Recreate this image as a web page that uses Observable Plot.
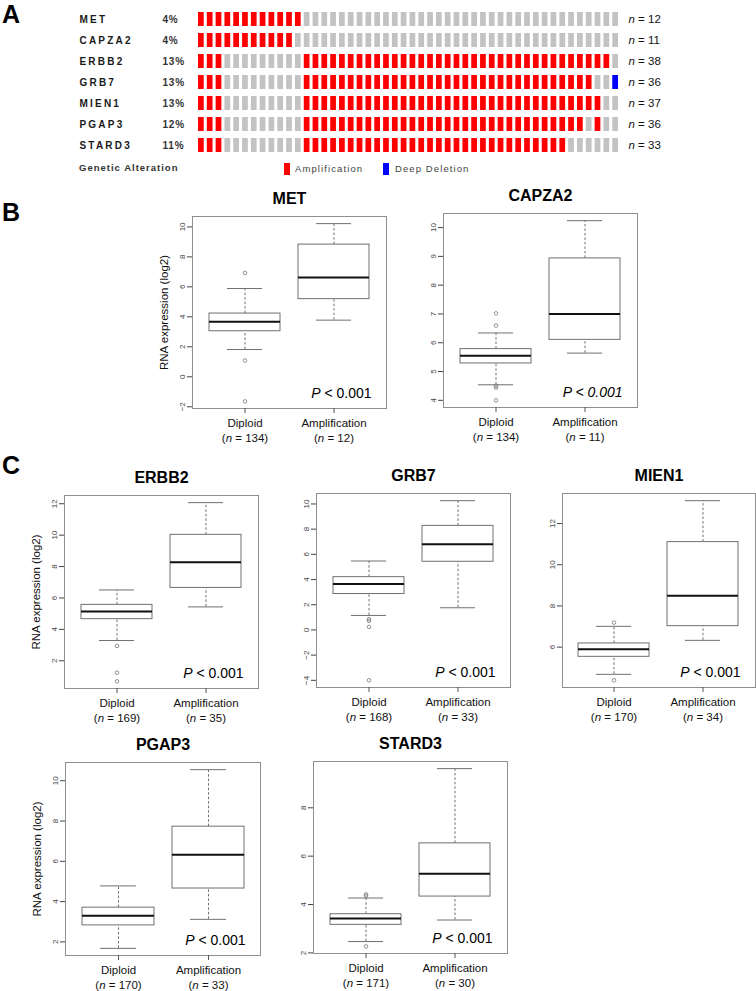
<!DOCTYPE html>
<html><head><meta charset="utf-8">
<script src="https://cdn.jsdelivr.net/npm/d3@7"></script>
<script src="https://cdn.jsdelivr.net/npm/@observablehq/plot@0.6"></script>
<style>
body{margin:0;background:#fff;}
#fig{position:relative;width:756px;height:991px;overflow:hidden;background:#fff;font-family:"Liberation Sans",Arial,Helvetica,sans-serif;color:#000;}
.letter{position:absolute;font-weight:bold;font-size:25px;line-height:1.1;}
.leg{position:absolute;font-size:9.5px;line-height:12px;letter-spacing:1.1px;color:#444;white-space:nowrap;}
.sw{position:absolute;width:6px;height:12px;}
</style></head><body><div id="fig"></div>
<script>
// ---------------- DATA ----------------
// Panel A (oncoprint)
const oncoGenes = ["MET", "CAPZA2", "ERBB2", "GRB7", "MIEN1", "PGAP3", "STARD3"];
const oncoPct = ["4%", "4%", "13%", "13%", "13%", "12%", "11%"];
const oncoN = [12, 11, 38, 36, 37, 36, 33];
// per-sample alteration runs (A = amplification, - = none, D = deep deletion), 48 samples
const oncoRuns = [
  [["A", 12], ["-", 36]],
  [["A", 11], ["-", 37]],
  [["A", 3], ["-", 9], ["A", 35], ["-", 1]],
  [["A", 3], ["-", 9], ["A", 33], ["-", 2], ["D", 1]],
  [["A", 3], ["-", 9], ["A", 34], ["-", 2]],
  [["A", 3], ["-", 9], ["A", 32], ["-", 1], ["A", 1], ["-", 2]],
  [["A", 3], ["-", 9], ["A", 30], ["-", 6]]
];
const statusCodes = ["A", "-", "D"];
const statusNames = ["Amplification", "None", "Deep Deletion"];

// Panels B and C (box plots)
const boxGenes = ["MET", "CAPZA2", "ERBB2", "GRB7", "MIEN1", "PGAP3", "STARD3"];
const groupNames = ["Diploid", "Amplification"];
const diploidN = [134, 134, 169, 168, 170, 170, 171];
const ampN = [12, 11, 35, 33, 34, 33, 30];
// [lower whisker, Q1, median, Q3, upper whisker]
const diploidStats = [
  [1.82, 3.04, 3.67, 4.22, 5.89],
  [4.54, 5.28, 5.55, 5.78, 6.34],
  [3.29, 4.65, 5.14, 5.56, 6.51],
  [1.15, 2.85, 3.65, 4.19, 5.47],
  [4.68, 5.53, 5.90, 6.18, 7.01],
  [1.68, 2.82, 3.30, 3.70, 4.78],
  [2.47, 3.16, 3.42, 3.60, 4.27]
];
const ampStats = [
  [3.78, 5.18, 6.62, 8.82, 10.22],
  [5.64, 6.10, 7.00, 8.93, 10.24],
  [5.43, 6.64, 8.27, 10.02, 12.07],
  [1.76, 5.41, 6.80, 8.26, 10.26],
  [6.33, 7.02, 8.50, 11.10, 13.11],
  [3.12, 4.65, 6.33, 7.72, 10.55],
  [3.36, 4.33, 5.27, 6.53, 9.62]
];
const diploidOutliers = [
  [6.93, 1.09, -1.64],
  [7.02, 6.60, 4.50, 4.44, 4.00],
  [2.95, 1.24, 0.69],
  [0.85, 0.72, 0.24, -4.00],
  [7.19, 4.39],
  [],
  [4.42, 4.36, 2.27]
];
const yTicks = [
  [-2, 0, 2, 4, 6, 8, 10],
  [4, 5, 6, 7, 8, 9, 10],
  [2, 4, 6, 8, 10, 12],
  [-4, -2, 0, 2, 4, 6, 8, 10],
  [6, 8, 10, 12],
  [2, 4, 6, 8, 10],
  [2, 4, 6, 8]
];
const pText = ["P < 0.001", "P < 0.001", "P < 0.001", "P < 0.001", "P < 0.001", "P < 0.001", "P < 0.001"];
const yLabelText = "RNA expression (log2)";
const panelLetters = ["A", "B", "C"];

// ---------------- LAYOUT / STYLE ----------------
const FONT = '"Liberation Sans", Arial, Helvetica, sans-serif';
const statusColors = ["#ff0000", "#c3c3c3", "#0000ff"];
// frame [left, right, top, bottom] of each box plot in page pixels
const frames = [
  [192, 386, 216, 408],
  [443, 637, 213, 407],
  [64, 258, 495, 688],
  [316, 510, 493, 687],
  [562, 755, 493, 687],
  [65, 260, 762, 955],
  [313, 507, 761, 953]
];
const showYLabel = [true, false, true, false, false, true, false];
const italicAllP = [false, true, false, false, false, false, false];
const letterPos = [[2, 1], [2, 199], [2, 452]];

const fig = document.getElementById("fig");
function place(el, left, top) {
  el.style.position = "absolute";
  el.style.left = left + "px";
  el.style.top = top + "px";
  fig.appendChild(el);
}
function postProcess(svg) {
  const s = d3.select(svg);
  s.selectAll("text, tspan").each(function () {
    if (this.children.length) return;
    const el = d3.select(this);
    const t = el.text();
    let m;
    if ((m = t.match(/^\(n = (\d+)\)$/))) el.html(`(<tspan font-style="italic">n</tspan> = ${m[1]})`);
    else if ((m = t.match(/^n = (\d+)$/))) el.html(`<tspan font-style="italic">n</tspan> = ${m[1]}`);
    else if ((m = t.match(/^P (.*)$/))) el.html(`<tspan font-style="italic">P</tspan> ${m[1].replace("<", "&lt;")}`);
  });
}

// ---------------- PANEL A ----------------
const cells = oncoGenes.flatMap((g, i) => {
  let col = 0;
  return oncoRuns[i].flatMap(([s, k]) => d3.range(k).map(() => ({gene: g, col: col++, status: s})));
});
const nCols = d3.max(cells, d => d.col) + 1;
const onco = Plot.plot({
  width: 756, height: 180,
  marginLeft: 198, marginRight: 138, marginTop: 12, marginBottom: 27,
  style: {fontFamily: FONT, background: "transparent", overflow: "visible"},
  x: {type: "band", domain: d3.range(nCols), paddingInner: 0.35, paddingOuter: 0, axis: null},
  y: {type: "band", domain: oncoGenes, paddingInner: 0.32, paddingOuter: 0, axis: null},
  color: {domain: statusCodes, range: statusColors},
  marks: [
    Plot.cell(cells, {x: "col", y: "gene", fill: "status", inset: 0}),
    Plot.text(oncoGenes, {y: d => d, text: d => d, frameAnchor: "left", dx: -119, textAnchor: "start", lineAnchor: "middle", fontWeight: "bold", fontSize: 10, fill: "#1a1a1a"}),
    Plot.text(oncoGenes, {y: d => d, text: (d, i) => oncoPct[i], frameAnchor: "left", dx: -36, textAnchor: "start", lineAnchor: "middle", fontWeight: "bold", fontSize: 10, fill: "#333"}),
    Plot.text(oncoGenes, {y: d => d, text: (d, i) => `n = ${oncoN[i]}`, frameAnchor: "right", dx: 10, textAnchor: "start", lineAnchor: "middle", fontSize: 11.5, fill: "#111"})
  ]
});
d3.select(onco).selectAll("text").each(function () {
  const t = d3.select(this).text();
  if (oncoGenes.includes(t)) d3.select(this).attr("letter-spacing", "2.2px");
  else if (t.endsWith("%")) d3.select(this).attr("letter-spacing", "0.8px");
});
postProcess(onco);
place(onco, 0, 0);

// legend
function leg(html, left, top, cls, extra) {
  const d = document.createElement("div");
  d.className = cls;
  d.innerHTML = html;
  if (extra) Object.assign(d.style, extra);
  place(d, left, top);
}
leg("Genetic Alteration", 79, 162, "leg", {fontWeight: "bold", color: "#333", letterSpacing: "1px"});
leg("", 284, 163, "sw", {background: statusColors[0]});
leg(statusNames[0], 295, 163, "leg");
leg("", 383, 163, "sw", {background: statusColors[2]});
leg(statusNames[2], 395, 163, "leg");

// panel letters
panelLetters.forEach((l, i) => leg(l, letterPos[i][0], letterPos[i][1], "letter"));

// ---------------- PANELS B / C ----------------
boxGenes.forEach((gene, gi) => {
  const [L, R, T, B] = frames[gi];
  const ml = 75, mr = 14, mt = 36, mb = 50;
  const mk = (name, n, s) => ({name, n, lo: s[0], q1: s[1], med: s[2], q3: s[3], hi: s[4]});
  const groups = [mk(groupNames[0], diploidN[gi], diploidStats[gi]), mk(groupNames[1], ampN[gi], ampStats[gi])];
  const outs = diploidOutliers[gi].map(v => ({name: groupNames[0], v}));
  const all = [...diploidStats[gi], ...ampStats[gi], ...diploidOutliers[gi]];
  const [mn, mx] = d3.extent(all);
  const pad = (mx - mn) * 0.04;
  const bw = (R - L) / 2.16 * 0.8;
  const boxStroke = "#707070";
  const marks = [
    Plot.frame({stroke: "#8f8f8f"}),
    Plot.axisY(yTicks[gi], {tickSize: 5, tickPadding: 3, tickRotate: -90, fontSize: 8, color: "#444", label: null}),
    Plot.axisX({tickSize: 5, tickFormat: () => "", color: "#555", label: null}),
    Plot.ruleX(groups, {x: "name", y1: "q3", y2: "hi", stroke: boxStroke, strokeDasharray: "2.5,2"}),
    Plot.ruleX(groups, {x: "name", y1: "lo", y2: "q1", stroke: boxStroke, strokeDasharray: "2.5,2"}),
    Plot.tickY(groups, {x: "name", y: "hi", insetLeft: bw / 4, insetRight: bw / 4, stroke: boxStroke}),
    Plot.tickY(groups, {x: "name", y: "lo", insetLeft: bw / 4, insetRight: bw / 4, stroke: boxStroke}),
    Plot.barY(groups, {x: "name", y1: "q1", y2: "q3", fill: "white", stroke: boxStroke}),
    Plot.tickY(groups, {x: "name", y: "med", stroke: "#111", strokeWidth: 2}),
    Plot.dot(outs, {x: "name", y: "v", r: 1.8, stroke: "#777", strokeWidth: 0.8, fill: "none"}),
    Plot.text([gene], {text: d => d, frameAnchor: "top", dy: -18, lineAnchor: "middle", fontSize: 16, fontWeight: "bold", fill: "#000"}),
    Plot.text(groups, {x: "name", text: d => `${d.name}\n(n = ${d.n})`, frameAnchor: "bottom", dy: 21.5, lineAnchor: "middle", lineHeight: 1.3, fontSize: 11.5, fill: "#111"}),
    Plot.text([pText[gi]], {text: d => d, frameAnchor: "bottom-right", dx: -15, dy: -15, textAnchor: "end", lineAnchor: "middle", fontSize: 14, fontStyle: italicAllP[gi] ? "italic" : "normal", fill: "#000"})
  ];
  if (showYLabel[gi]) marks.push(Plot.text([yLabelText], {text: d => d, frameAnchor: "left", dx: -28, rotate: -90, textAnchor: "middle", lineAnchor: "middle", fontSize: 11.5, fill: "#111"}));
  const svg = Plot.plot({
    width: R - L + ml + mr, height: B - T + mt + mb,
    marginLeft: ml, marginRight: mr, marginTop: mt, marginBottom: mb,
    style: {fontFamily: FONT, background: "transparent", overflow: "visible"},
    x: {type: "band", domain: groupNames, paddingInner: 0.2, paddingOuter: 0.18},
    y: {domain: [mn - pad, mx + pad], label: null},
    marks
  });
  postProcess(svg);
  place(svg, L - ml, T - mt);
});
</script></body></html>
